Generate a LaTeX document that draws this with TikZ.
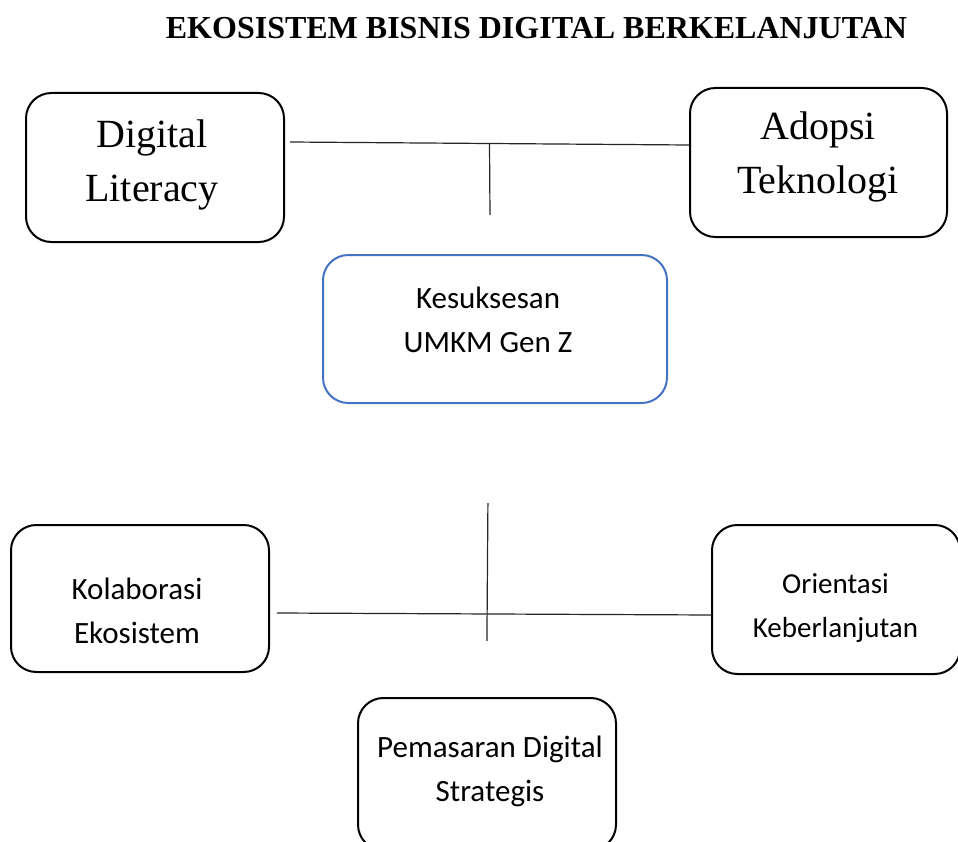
\documentclass[tikz,border=0pt]{standalone}
\usepackage{fontspec}
\setmainfont{Liberation Serif}
\newfontfamily\calfont{Carlito}
\usetikzlibrary{calc}
\definecolor{boxblue}{HTML}{4472C4}
\begin{document}
\begin{tikzpicture}[x=0.75pt,y=-0.75pt,
  box/.style={draw=black, line width=1.5pt, rounded corners=19pt, inner sep=0pt},
  serift/.style={align=center, inner sep=0pt, font=\fontsize{30}{40.5}\selectfont},
  sanst/.style={align=center, inner sep=0pt, font=\calfont\fontsize{23.25}{33}\selectfont},
  conn/.style={line width=0.9pt, draw=black!85}]
\useasboundingbox (0,0) rectangle (958,842);
\clip (0,0) rectangle (958,842);

\node[font=\bfseries\fontsize{24}{28}\selectfont, inner sep=0pt] (title) at (536.5,28) {EKOSISTEM BISNIS DIGITAL BERKELANJUTAN};

% boxes
\node[box, minimum width=193.5pt, minimum height=111.75pt] (dl) at (155,167.5) {};
\node[box, minimum width=192.75pt, minimum height=111.75pt] (ad) at (818.5,162.5) {};
\node[box, draw=boxblue, minimum width=258pt, minimum height=111pt] (ks) at (495,329) {};
\node[box, minimum width=193.5pt, minimum height=110.25pt] (ko) at (140,598.5) {};
\node[box, minimum width=186pt, minimum height=111.75pt] (or) at (836,599.5) {};
\node[box, minimum width=193.5pt, minimum height=114pt] (pm) at (487,774) {};

% texts
\node[serift] (dlt) at (152,165) {Digital\\Literacy};
\node[serift] (adt) at (818,157) {Adopsi\\Teknologi};
\node[sanst] (kst) at (488,320) {Kesuksesan\\UMKM Gen Z};
\node[sanst] (kot) at (137,611) {Kolaborasi\\Ekosistem};
\node[sanst, font=\calfont\fontsize{21.75}{33}\selectfont] (ort) at (835.5,608) {Orientasi\\Keberlanjutan};
\node[sanst] (pmt) at (490,771) {Pemasaran Digital\\Strategis};

% top connectors
\coordinate (t1) at ($(dl.east)+(5,-25.5)$);
\coordinate (t2) at ($(ad.west)+(0,-17.5)$);
\coordinate (tm) at ($(t1)!0.5!(t2)$);
\draw[conn] (t1) -- (t2);
\draw[conn] (tm) -- ++(0.5,71.5);

% bottom connectors
\coordinate (b1) at ($(ko.east)+(7,14.5)$);
\coordinate (b2) at ($(or.west)+(0,15.5)$);
\coordinate (bx) at ($(b1)!0.486!(b2)$);
\draw[conn] (b1) -- (b2);
\draw[conn] ($(bx)+(0,-111)$) -- ($(bx)+(-1,27)$);
\end{tikzpicture}
\end{document}
